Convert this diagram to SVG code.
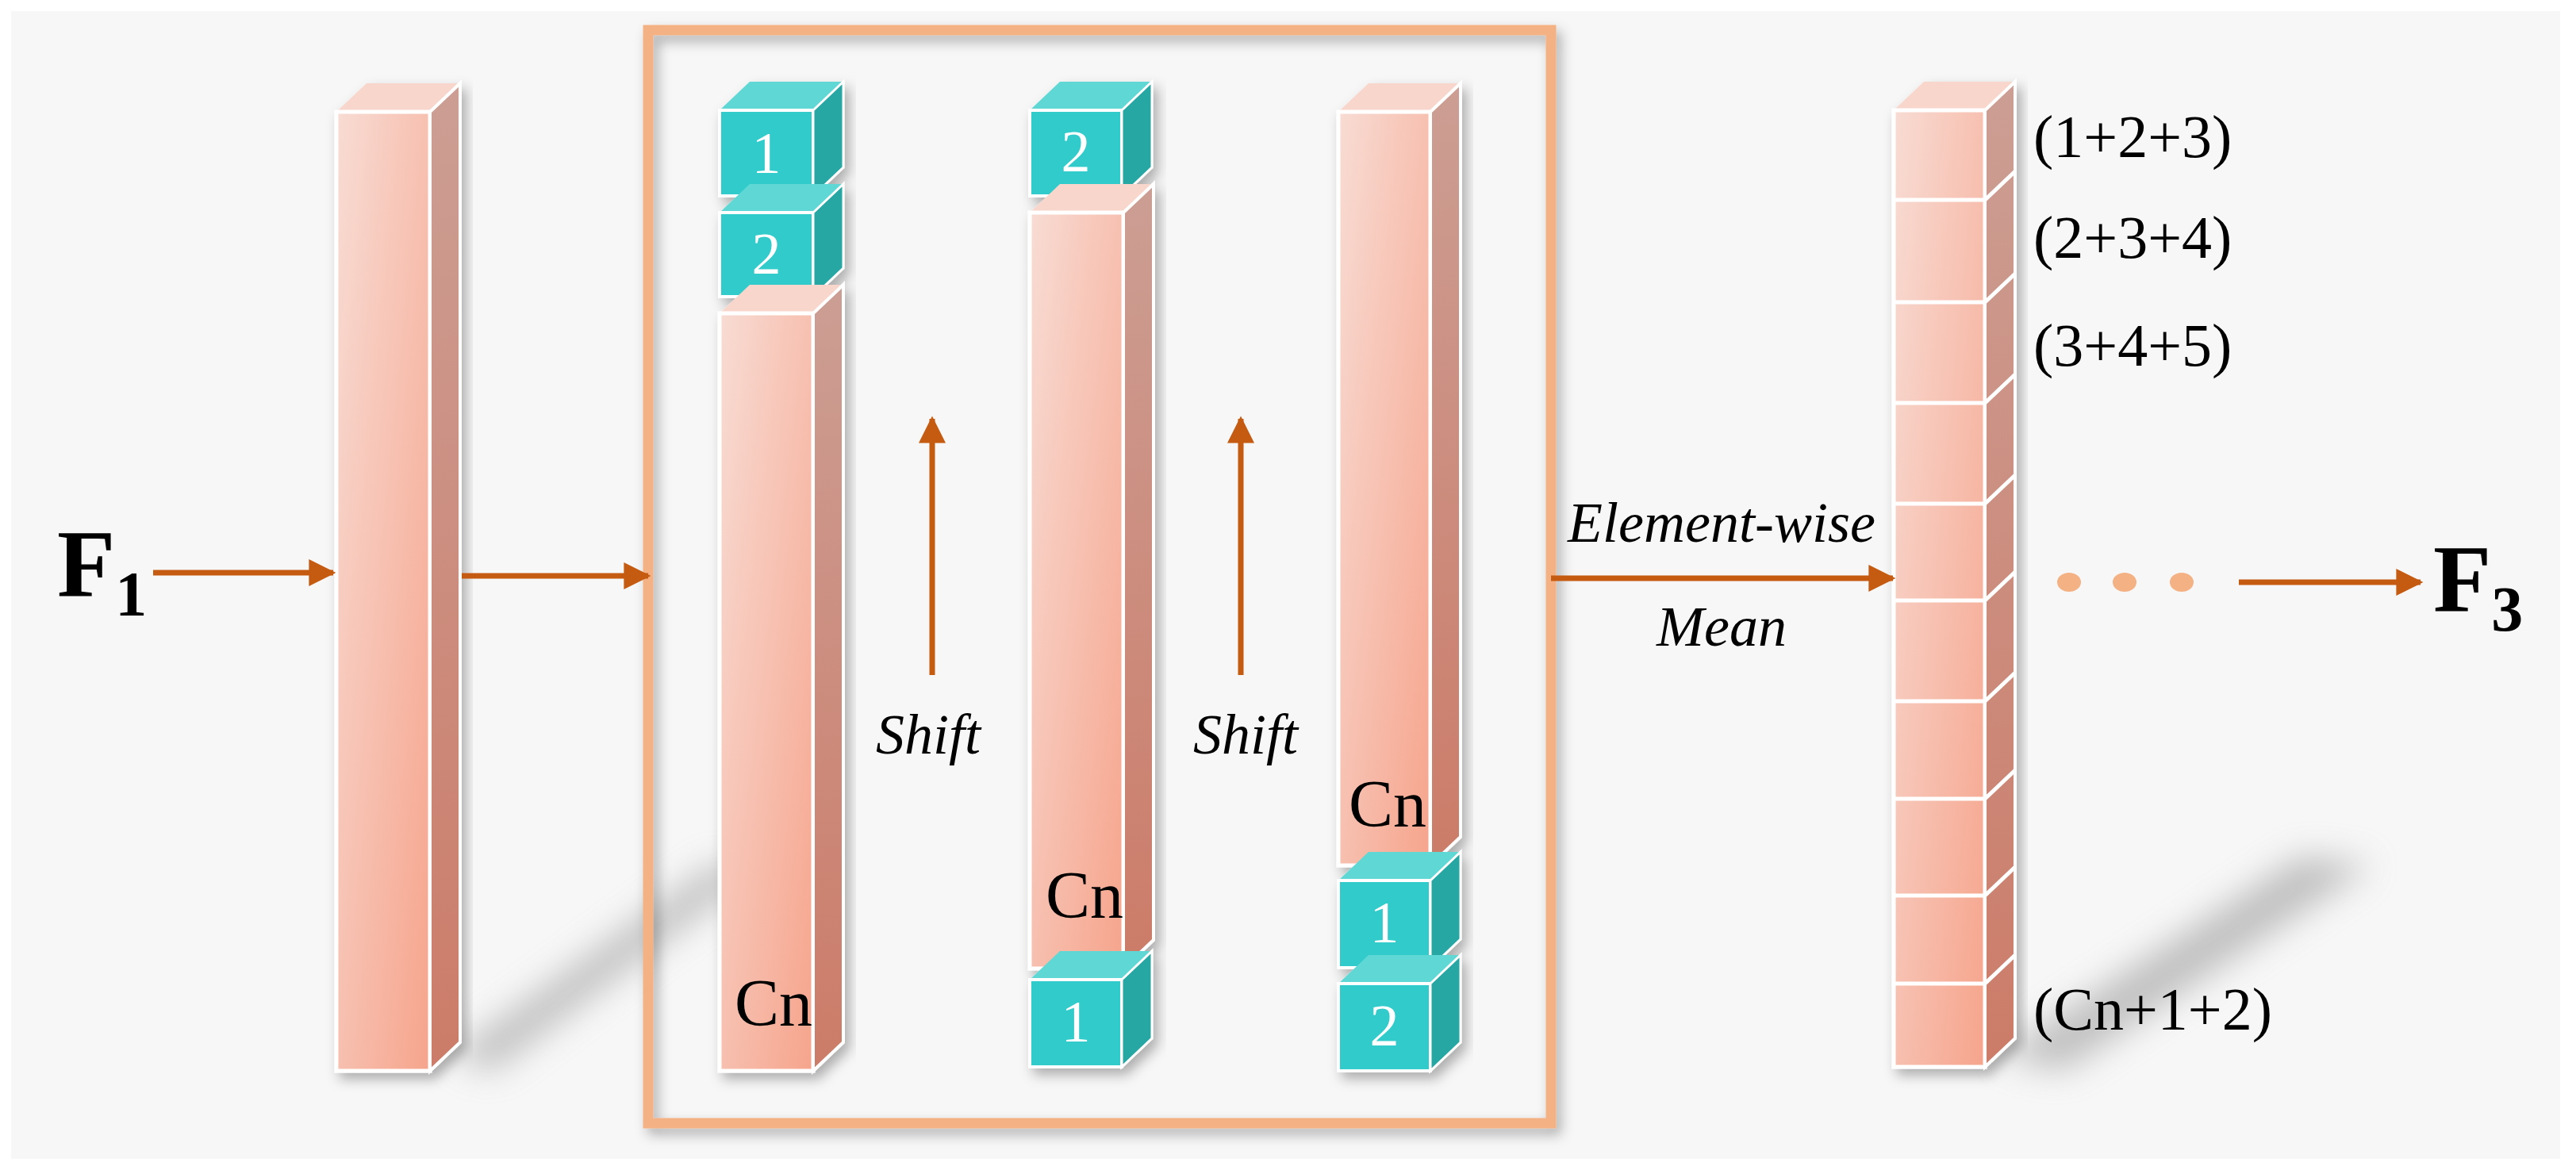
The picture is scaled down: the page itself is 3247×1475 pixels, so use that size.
<svg xmlns="http://www.w3.org/2000/svg" width="3247" height="1475" viewBox="0 0 3247 1475">
<defs>
<linearGradient id="gf" x1="0" y1="0" x2="1" y2="1"><stop offset="0" stop-color="#f8dcd4"/><stop offset="1" stop-color="#f6a48c"/></linearGradient>
<linearGradient id="gs" x1="0" y1="0" x2="0" y2="1"><stop offset="0" stop-color="#cc9e94"/><stop offset="1" stop-color="#cc7c68"/></linearGradient>
<filter id="blur" x="-50%" y="-50%" width="200%" height="200%"><feGaussianBlur stdDeviation="22"/></filter>
<filter id="sh" x="-10%" y="-10%" width="120%" height="120%"><feDropShadow dx="6" dy="8" stdDeviation="8" flood-color="#000" flood-opacity="0.3"/></filter>
<marker id="ah" viewBox="0 0 10 10" refX="9" refY="5" markerWidth="40" markerHeight="34" markerUnits="userSpaceOnUse" orient="auto"><path d="M0,0 L10,5 L0,10 z" fill="#c55a11"/></marker>
</defs>
<style>
.f{fill:url(#gf);stroke:#fff;stroke-width:5}
.s{fill:url(#gs);stroke:#fff;stroke-width:4}
.t{fill:#f9d6cc;stroke:none}
.cf{fill:#33cbcb;stroke:#fff;stroke-width:4}
.cs{fill:#27a7a4;stroke:#fff;stroke-width:3}
.ct{fill:#5ed8d5}
text{font-family:"Liberation Serif","Times New Roman","DejaVu Serif",serif}
.cn{font-size:84px;fill:#000}
.num{font-size:74px;fill:#fff;text-anchor:middle}
.it{font-style:italic;font-size:72px;fill:#000;text-anchor:middle}
.lb{font-size:76px;fill:#000}
.big{font-weight:bold;font-size:120px;fill:#000}
.sub{font-size:80px}
.ar{stroke:#c55a11;stroke-width:7;fill:none}
</style>
<rect width="3247" height="1475" fill="#fff"/>
<rect x="14" y="14" width="3213" height="1447" fill="#f7f7f7"/>
<g id="shadows" fill="#9a9a9a" opacity="0.6" filter="url(#blur)">
<polygon points="570,1330 900,1090 950,1100 620,1350"/>
<polygon points="2520,1330 2900,1080 2990,1090 2600,1350"/>
</g>
<g id="frame"><rect x="817" y="38" width="1138" height="1378" fill="none" stroke="#f4b183" stroke-width="13" filter="url(#sh)"/></g>
<g id="bar1" filter="url(#sh)">
<polygon class="t" points="424,141 462,105 580,105 542,141"/>
<rect class="f" x="424" y="141" width="118" height="1209"/>
<polygon class="s" points="542,141 580,105 580,1314 542,1350"/>
</g>
<g id="col1" filter="url(#sh)">
<polygon class="ct" points="907,139 945,103 1063,103 1025,139"/>
<rect class="cf" x="907" y="139" width="118" height="108"/>
<polygon class="cs" points="1025,139 1063,103 1063,211 1025,247"/>
<polygon class="ct" points="907,268 945,232 1063,232 1025,268"/>
<rect class="cf" x="907" y="268" width="118" height="106"/>
<polygon class="cs" points="1025,268 1063,232 1063,338 1025,374"/>
<polygon class="t" points="907,395 945,359 1063,359 1025,395"/>
<rect class="f" x="907" y="395" width="118" height="955"/>
<polygon class="s" points="1025,395 1063,359 1063,1314 1025,1350"/>
<text class="num" x="966" y="218">1</text>
<text class="num" x="966" y="345">2</text>
<text class="cn" x="926" y="1293">Cn</text>
</g>
<g id="col2" filter="url(#sh)">
<polygon class="ct" points="1298,139 1336,103 1452,103 1414,139"/>
<rect class="cf" x="1298" y="139" width="116" height="108"/>
<polygon class="cs" points="1414,139 1452,103 1452,211 1414,247"/>
<polygon class="t" points="1298,268 1336,232 1454,232 1416,268"/>
<rect class="f" x="1298" y="268" width="118" height="953"/>
<polygon class="s" points="1416,268 1454,232 1454,1185 1416,1221"/>
<polygon class="ct" points="1298,1235 1336,1199 1452,1199 1414,1235"/>
<rect class="cf" x="1298" y="1235" width="116" height="110"/>
<polygon class="cs" points="1414,1235 1452,1199 1452,1309 1414,1345"/>
<text class="num" x="1356" y="216">2</text>
<text class="num" x="1356" y="1313">1</text>
<text class="cn" x="1318" y="1157">Cn</text>
</g>
<g id="col3" filter="url(#sh)">
<polygon class="t" points="1687,141 1725,105 1841,105 1803,141"/>
<rect class="f" x="1687" y="141" width="116" height="950"/>
<polygon class="s" points="1803,141 1841,105 1841,1055 1803,1091"/>
<polygon class="ct" points="1687,1110 1725,1074 1841,1074 1803,1110"/>
<rect class="cf" x="1687" y="1110" width="116" height="110"/>
<polygon class="cs" points="1803,1110 1841,1074 1841,1184 1803,1220"/>
<polygon class="ct" points="1687,1240 1725,1204 1841,1204 1803,1240"/>
<rect class="cf" x="1687" y="1240" width="116" height="110"/>
<polygon class="cs" points="1803,1240 1841,1204 1841,1314 1803,1350"/>
<text class="num" x="1745" y="1188">1</text>
<text class="num" x="1745" y="1318">2</text>
<text class="cn" x="1700" y="1042">Cn</text>
</g>
<g id="outbar" filter="url(#sh)">
<polygon class="t" points="2387,139 2425,103 2540,103 2502,139"/>
<rect class="f" x="2387" y="139" width="115" height="1206"/>
<polygon class="s" points="2502,139 2540,103 2540,1309 2502,1345"/>
<path fill="none" stroke="#fff" stroke-width="5" d="M2387,252H2502L2540,216M2387,381H2502L2540,345M2387,508H2502L2540,472M2387,635H2502L2540,599M2387,757H2502L2540,721M2387,884H2502L2540,848M2387,1007H2502L2540,971M2387,1129H2502L2540,1093M2387,1240H2502L2540,1204"/>
</g>
<g id="labels">
<text class="lb" x="2563" y="198">(1+2+3)</text>
<text class="lb" x="2563" y="325">(2+3+4)</text>
<text class="lb" x="2563" y="461">(3+4+5)</text>
<text class="lb" x="2563" y="1298">(Cn+1+2)</text>
<text class="big" x="72" y="752">F<tspan class="sub" dy="24">1</tspan></text>
<text class="big" x="3067" y="771">F<tspan class="sub" dy="24">3</tspan></text>
<text class="it" x="1170" y="950">Shift</text>
<text class="it" x="1570" y="950">Shift</text>
<text class="it" x="2170" y="683">Element-wise</text>
<text class="it" x="2170" y="814">Mean</text>
</g>
<g id="dots" fill="#f4b183">
<ellipse cx="2608" cy="734" rx="15" ry="12"/>
<ellipse cx="2678" cy="734" rx="15" ry="12"/>
<ellipse cx="2750" cy="734" rx="15" ry="12"/>
</g>
<g id="connectors">
<line class="ar" x1="193" y1="722" x2="420" y2="722" marker-end="url(#ah)"/>
<line class="ar" x1="582" y1="726" x2="817" y2="726" marker-end="url(#ah)"/>
<line class="ar" x1="1175" y1="851" x2="1175" y2="528" marker-end="url(#ah)"/>
<line class="ar" x1="1564" y1="851" x2="1564" y2="528" marker-end="url(#ah)"/>
<line class="ar" x1="1955" y1="729" x2="2386" y2="729" marker-end="url(#ah)"/>
<line class="ar" x1="2822" y1="734" x2="3051" y2="734" marker-end="url(#ah)"/>
</g>
</svg>
